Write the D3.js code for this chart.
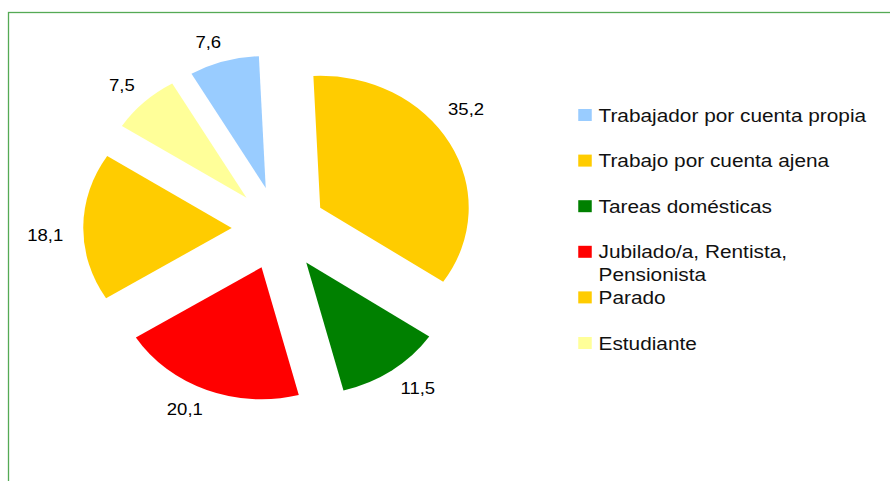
<!DOCTYPE html>
<html>
<head>
<meta charset="utf-8">
<script src="https://cdn.jsdelivr.net/npm/d3@7"></script>
<style>
  html, body { margin: 0; padding: 0; background: #fff; }
  svg { display: block; font-family: "Liberation Sans", Arial, sans-serif; }
</style>
</head>
<body>
<div id="chart"></div>
<script>
// data
var categories = ["Trabajador por cuenta propia", "Trabajo por cuenta ajena", "Tareas domésticas",
                  "Jubilado/a, Rentista, Pensionista", "Parado", "Estudiante"];
var values = [7.6, 35.2, 11.5, 20.1, 18.1, 7.5];
var colors = ["#99CCFF", "#FFCC00", "#008000", "#FF0000", "#FFCC00", "#FFFF99"];

var width = 890, height = 481;
// the original image is stretched sideways a bit, so draw in a narrower space and scale x
var sx = 1.125;
var cx = 248, cy = 228.3, radius = 132, explode = 42;
var deg = Math.PI / 180;
// small angular tweaks for the value labels (Excel placed some of them off the bisector)
var labelNudge = [-3, -8, -3, 4, -3, -1];

var svg = d3.select("#chart").append("svg")
    .attr("width", width)
    .attr("height", height);

// green frame, open to the right and bottom
svg.append("rect")
    .attr("x", 8.5).attr("y", 12.5)
    .attr("width", 900).attr("height", 500)
    .attr("fill", "none")
    .attr("stroke", "#55aa55")
    .attr("stroke-width", 1.3);

var g = svg.append("g").attr("transform", "scale(" + sx + ",1)");

var pie = d3.pie()
    .sort(null)
    .startAngle(-30 * deg)
    .endAngle(330 * deg);

var arc = d3.arc().innerRadius(0).outerRadius(radius);

var slices = pie(values);

function polar(a, r) {
    return [Math.sin(a) * r, -Math.cos(a) * r];
}

var node = g.selectAll(".slice")
    .data(slices)
    .enter()
    .append("g")
    .attr("class", "slice")
    .attr("transform", function (d) {
        var mid = (d.startAngle + d.endAngle) / 2;
        var p = polar(mid, explode);
        return "translate(" + (cx + p[0]) + "," + (cy + p[1]) + ")";
    });

node.append("path")
    .attr("d", arc)
    .attr("fill", function (d, i) { return colors[i]; });

node.append("text")
    .attr("font-size", 16.5)
    .attr("fill", "#000")
    .attr("text-anchor", "middle")
    .attr("dy", "0.35em")
    .attr("transform", function (d, i) {
        var mid = (d.startAngle + d.endAngle) / 2 + labelNudge[i] * deg;
        var half = d.data >= 10 ? 15 : 10;
        var r = radius + 19 + Math.abs(Math.sin(mid)) * half;
        var p = polar(mid, r);
        return "translate(" + p[0] + "," + p[1] + ")";
    })
    .text(function (d) { return String(d.data).replace(".", ","); });

// legend
function wrap(name) {
    if (name.length > 30) {
        var k = name.lastIndexOf(", ");
        return [name.slice(0, k + 1), name.slice(k + 2)];
    }
    return [name];
}

var legend = g.selectAll(".legend")
    .data(categories)
    .enter()
    .append("g")
    .attr("class", "legend")
    .attr("transform", function (d, i) {
        return "translate(514," + (115 + i * 45.6) + ")";
    });

legend.append("rect")
    .attr("x", 0).attr("y", -6)
    .attr("width", 12).attr("height", 12)
    .attr("fill", function (d, i) { return colors[i]; });

legend.append("text")
    .attr("x", 18)
    .attr("y", 6.5)
    .attr("font-size", 18.5)
    .attr("fill", "#111")
    .selectAll("tspan")
    .data(function (d) { return wrap(d); })
    .enter()
    .append("tspan")
    .attr("x", 18)
    .attr("dy", function (d, i) { return i ? 22.5 : 0; })
    .text(function (d) { return d; });
</script>
</body>
</html>
